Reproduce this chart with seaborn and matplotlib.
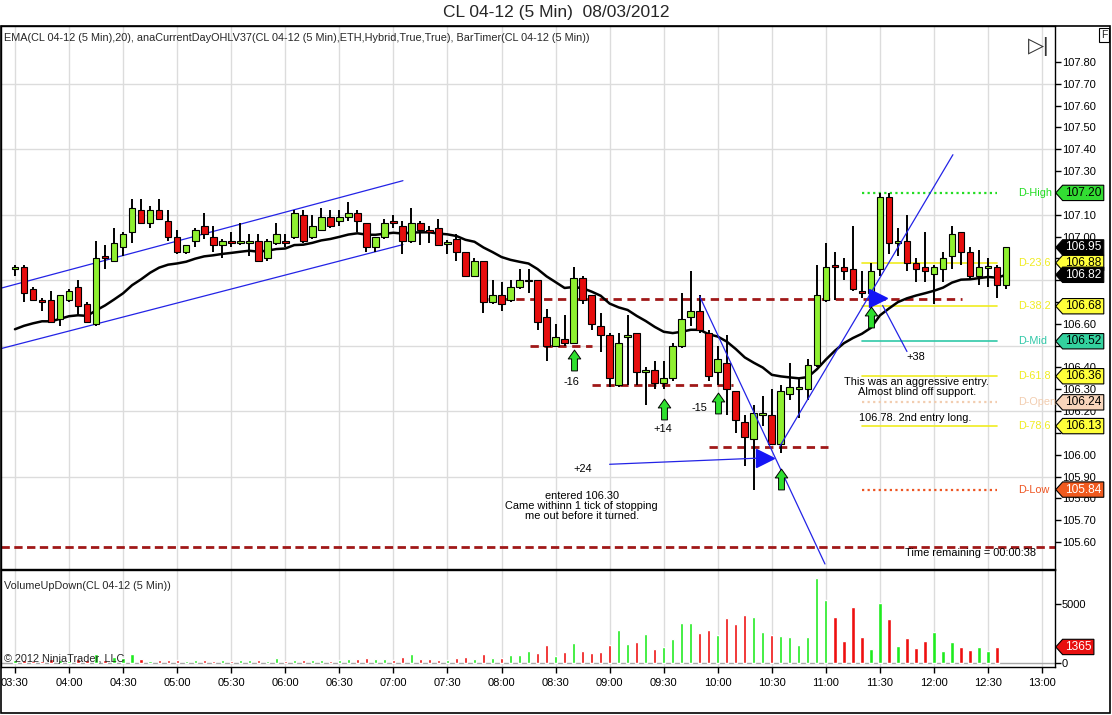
import numpy as np
import pandas as pd
import matplotlib
matplotlib.use("Agg")
import matplotlib.pyplot as plt
import seaborn as sns
from matplotlib.path import Path
from matplotlib.patches import Rectangle

# ---------------- data ----------------
time_labels = ["03:30", "04:00", "04:30", "05:00", "05:30", "06:00", "06:30", "07:00",
               "07:30", "08:00", "08:30", "09:00", "09:30", "10:00", "10:30", "11:00",
               "11:30", "12:00", "12:30", "13:00"]

opens = [106.85, 106.86, 106.76, 106.71, 106.71, 106.62, 106.71, 106.77, 106.69, 106.60,
         106.91, 106.89, 106.95, 107.02, 107.12, 107.06, 107.12, 107.07, 107.00, 106.93,
         106.98, 107.05, 107.00, 106.96, 106.98, 106.97, 106.97, 106.98, 106.90, 106.97,
         106.98, 107.00, 107.10, 107.00, 107.03, 107.09, 107.07, 107.09, 107.11, 107.06,
         106.95, 107.00, 107.07, 107.05, 106.98, 107.06, 107.03, 107.04, 106.965, 106.99,
         106.93, 106.82, 106.89, 106.70, 106.73, 106.71, 106.77, 106.795, 106.80, 106.63,
         106.50, 106.53, 106.51, 106.81, 106.73, 106.59, 106.55, 106.32, 106.54, 106.56,
         106.38, 106.39, 106.33, 106.35, 106.50, 106.63, 106.66, 106.56, 106.38, 106.42,
         106.29, 106.15, 106.07, 106.18, 106.18, 106.05, 106.28, 106.30, 106.30, 106.41,
         106.71, 106.87, 106.86, 106.85, 106.75, 106.74, 106.85, 107.18, 106.97, 106.98,
         106.88, 106.86, 106.83, 106.85, 106.91, 107.02, 106.93, 106.82, 106.855, 106.86,
         106.78]
highs = [106.87, 106.87, 106.77, 106.72, 106.75, 106.73, 106.76, 106.80, 106.70, 106.98,
         106.96, 107.04, 107.02, 107.17, 107.17, 107.14, 107.17, 107.12, 107.03, 106.96,
         107.04, 107.11, 107.05, 106.99, 107.02, 107.06, 107.01, 107.01, 106.99, 107.06,
         107.01, 107.12, 107.12, 107.10, 107.13, 107.12, 107.12, 107.16, 107.12, 107.06,
         107.00, 107.08, 107.10, 107.07, 107.13, 107.07, 107.05, 107.08, 106.985, 107.01,
         106.93, 106.90, 106.89, 106.80, 106.79, 106.80, 106.85, 106.85, 106.80, 106.67,
         106.60, 106.64, 106.86, 106.82, 106.73, 106.65, 106.56, 106.56, 106.64, 106.56,
         106.40, 106.43, 106.43, 106.51, 106.74, 106.84, 106.73, 106.57, 106.50, 106.55,
         106.29, 106.18, 106.23, 106.27, 106.30, 106.32, 106.42, 106.35, 106.44, 106.87,
         106.97, 106.93, 106.90, 107.05, 106.84, 106.88, 107.20, 107.20, 107.04, 107.10,
         106.90, 107.02, 106.87, 106.93, 107.05, 107.02, 106.95, 106.94, 106.90, 106.87,
         106.95]
lows = [106.82, 106.70, 106.71, 106.66, 106.61, 106.59, 106.70, 106.64, 106.61, 106.59,
        106.85, 106.89, 106.91, 106.97, 107.06, 107.04, 107.08, 106.98, 106.92, 106.92,
        106.95, 106.99, 106.93, 106.90, 106.95, 106.96, 106.91, 106.89, 106.89, 106.96,
        106.95, 106.99, 106.97, 106.99, 107.03, 107.04, 107.05, 107.07, 107.02, 106.93,
        106.93, 106.99, 107.04, 106.92, 106.97, 106.96, 106.97, 106.96, 106.92, 106.89,
        106.82, 106.82, 106.65, 106.69, 106.66, 106.70, 106.76, 106.74, 106.57, 106.43,
        106.50, 106.50, 106.51, 106.69, 106.57, 106.47, 106.31, 106.31, 106.32, 106.32,
        106.23, 106.30, 106.30, 106.34, 106.49, 106.59, 106.56, 106.34, 106.32, 106.18,
        106.10, 105.95, 105.84, 106.13, 106.05, 106.01, 106.25, 106.17, 106.25, 106.40,
        106.70, 106.71, 106.80, 106.75, 106.72, 106.72, 106.82, 106.92, 106.91, 106.84,
        106.79, 106.79, 106.69, 106.79, 106.85, 106.87, 106.80, 106.78, 106.77, 106.72,
        106.76]
closes = [106.86, 106.74, 106.71, 106.70, 106.61, 106.73, 106.75, 106.68, 106.61, 106.90,
          106.90, 106.97, 107.01, 107.13, 107.06, 107.12, 107.08, 107.00, 106.93, 106.96,
          107.03, 107.01, 106.96, 106.98, 106.97, 106.98, 106.98, 106.89, 106.98, 107.01,
          106.97, 107.11, 106.98, 107.05, 107.09, 107.05, 107.09, 107.11, 107.07, 106.95,
          107.00, 107.06, 107.06, 106.98, 107.06, 107.03, 107.02, 106.96, 106.975, 106.93,
          106.82, 106.89, 106.70, 106.73, 106.69, 106.77, 106.80, 106.80, 106.61, 106.50,
          106.54, 106.51, 106.81, 106.71, 106.60, 106.55, 106.35, 106.51, 106.55, 106.38,
          106.39, 106.33, 106.35, 106.50, 106.62, 106.66, 106.57, 106.36, 106.44, 106.30,
          106.16, 106.08, 106.19, 106.19, 106.05, 106.29, 106.31, 106.31, 106.41, 106.73,
          106.86, 106.86, 106.84, 106.76, 106.74, 106.84, 107.18, 106.97, 106.98, 106.88,
          106.85, 106.84, 106.86, 106.90, 107.01, 106.93, 106.82, 106.86, 106.865, 106.78,
          106.95]
volumes = [230, 260, 200, 150, 300, 260, 180, 345, 260, 725,
           290, 520, 435, 725, 350, 200, 290, 230, 290, 175,
           290, 290, 200, 230, 200, 260, 290, 260, 200, 465,
           145, 290, 230, 230, 230, 145, 230, 375, 375, 465,
           350, 375, 230, 520, 725, 350, 350, 290, 290, 465,
           520, 350, 725, 405, 405, 640, 700, 985, 870, 1543,
           571, 914, 1714, 1029, 857, 914, 1543, 2829, 1629, 1800,
           2486, 1200, 1371, 2057, 3429, 3429, 2571, 2829, 2400, 3857,
           3343, 4114, 3914, 2657, 2400, 2314, 2200, 1543, 2229, 7257,
           5371, 3943, 1886, 4800, 2229, 1200, 5143, 3771, 1457, 2143,
           1286, 1886, 2657, 1029, 1800, 1371, 1114, 1371, 1029, 1365]

ema_period = 20
ema_seed = 106.545
day_open = 106.24

# annotation drawings (bar index, price)
channel_upper = [(-1.66, 106.762), (43.06, 107.256)]
channel_lower = [(-1.66, 106.485), (43.06, 106.963)]
trend_lines = [[(66.0, 105.956), (82.4, 105.984)],
               [(76.0, 106.725), (89.9, 105.499)],
               [(84.9, 106.039), (104.1, 107.375)],
               [(96.3, 106.684), (99.0, 106.473)]]
support_prices = [106.715, 106.50, 106.318, 106.033]
support_start = [52.5, 57.2, 64.0, 77.0]
support_end = [105.1, 64.0, 79.7, 90.2]
stop_line = 105.577
signal_bars = [62, 72, 78, 85, 95]
signal_prices = [106.432, 106.208, 106.236, 105.888, 106.629]
entry_bars = [83.2, 95.8]
entry_prices = [105.984, 106.720]
notes = [(61.8, 106.332, "-16"), (71.9, 106.117, "+14"), (76.0, 106.213, "-15"),
         (63.0, 105.934, "+24"), (100.0, 106.446, "+38"),
         (62.9, 105.766, "entered 106.30\nCame withinn 1 tick of stopping\nme out before it turned."),
         (100.1, 106.31, "This was an aggressive entry.\nAlmost blind off support."),
         (99.9, 106.167, "106.78. 2nd entry long."),
         (106.0, 105.55, "Time remaining = 00:00:38")]

# ---------------- style ----------------
sns.set_style("white")
plt.rcParams['font.family'] = ['Liberation Sans', 'DejaVu Sans']

W, H = 1112, 715
fig = plt.figure(figsize=(W / 100, H / 100), dpi=100)
fig.patch.set_facecolor('white')


def fx(px):
    return px / W


def fy(py):
    return 1 - py / H


ax = fig.add_axes([fx(1), fy(569), fx(1055) - fx(1), fy(26) - fy(569)])
axv = fig.add_axes([fx(1), fy(667), fx(1055) - fx(1), fy(570) - fy(667)], sharex=ax)

n = len(closes)
x = np.arange(n)
o = np.array(opens); h = np.array(highs); l = np.array(lows); c = np.array(closes)

GREEN = "#8FF030"
RED = "#E60D0D"
DRED = "#A01818"
BLUE = "#2323E6"
GRID = "#DCDCDC"

ax.set_xlim(-1.55, 115.43)
ax.set_ylim(105.476, 107.965)
axv.set_ylim(-345, 7930)

# grid
xt = np.arange(0, 6 * len(time_labels), 6)
for xx in xt:
    ax.axvline(xx, color=GRID, lw=1, zorder=0)
    axv.axvline(xx, color=GRID, lw=1, zorder=0)
for yy in np.arange(105.9, 107.8, 0.3):
    ax.axhline(yy, color=GRID, lw=1, zorder=0)
axv.axhline(0, color="#A8A8A8", lw=1, zorder=1)

# channel lines
for seg in (channel_upper, channel_lower):
    ax.plot([seg[0][0], seg[1][0]], [seg[0][1], seg[1][1]], color=BLUE, lw=0.9, zorder=2)

# support / resistance dashed lines
for p, s, e in zip(support_prices, support_start, support_end):
    ax.plot([s, e], [p, p], color=DRED, lw=2.0, dashes=(3, 2), zorder=2)
ax.axhline(stop_line, color=DRED, lw=2.0, dashes=(3, 1.6), zorder=2)

# day levels
dhigh, dlow = max(highs), min(lows)
rng = dhigh - dlow
levels = [("D-High", dhigh, "#22DD22", (1, 1.5), "#33DD33", "black"),
          ("D-23.6", dhigh - 0.236 * rng, "#F0EC20", None, "#FFFF3A", "black"),
          ("D-38.2", dhigh - 0.382 * rng, "#F0EC20", None, "#FFFF3A", "black"),
          ("D-Mid", dhigh - 0.5 * rng, "#30C8A8", None, "#33D19E", "black"),
          ("D-61.8", dhigh - 0.618 * rng, "#F0EC20", None, "#FFFF3A", "black"),
          ("D-Open", day_open, "#F2CDB0", (1, 1.5), "#F8D5BB", "black"),
          ("D-78.6", dhigh - 0.786 * rng, "#F0EC20", None, "#FFFF3A", "black"),
          ("D-Low", dlow, "#EE5522", (1, 1.5), "#F05A1E", "white")]
lvl_start, lvl_end = 94.0, 109.0
for name, p, col, dash, tfc, ttc in levels:
    if dash is None:
        ax.plot([lvl_start, lvl_end], [p, p], color=col, lw=1.2, zorder=2)
    else:
        ax.plot([lvl_start, lvl_end], [p, p], color=col, lw=1.6, dashes=dash, zorder=2)
    ax.text(111.3, p, name, color=col, fontsize=7.8, va='center', ha='left', zorder=5)

# EMA
alpha = 2 / (ema_period + 1)
ema = []
prev = ema_seed
for cc in closes:
    prev = prev + alpha * (cc - prev)
    ema.append(prev)
sns.lineplot(x=x, y=ema, ax=ax, color="black", lw=1.8, zorder=5)

# candles
up = c >= o
bottoms = np.minimum(o, c)
heights = np.maximum(np.abs(c - o), 0.005)
ax.vlines(x, l, h, color="black", lw=1.4, zorder=6)
ax.bar(x, heights, bottom=bottoms, width=0.74,
       color=[GREEN if u else RED for u in up], edgecolor="black", linewidth=0.8, zorder=7)

# trend lines, entry triangles
for seg in trend_lines:
    ax.plot([seg[0][0], seg[1][0]], [seg[0][1], seg[1][1]], color=BLUE, lw=0.9, zorder=8)
ax.plot(entry_bars, entry_prices, linestyle='none', marker='>', ms=12.5, color="#1414F5",
        mec="#1414F5", zorder=9)

# signal arrows
arrow_path = Path([(-0.28, -1), (0.28, -1), (0.28, 0.15), (0.6, 0.15), (0, 1),
                   (-0.6, 0.15), (-0.28, 0.15), (-0.28, -1)], closed=True)
ax.plot(signal_bars, signal_prices, linestyle='none', marker=arrow_path, ms=15,
        mfc="#2EE02E", mec="black", mew=0.7, zorder=9)

for bx, py, txt in notes:
    ax.text(bx, py, txt, fontsize=7.9, ha='center', va='center', color='black',
            linespacing=1.0, zorder=10)

# volume bars
vx = np.arange(len(volumes))
vcol = ["#1EEB1E" if up[i] else "#EE1010" for i in vx]
axv.bar(vx, volumes, width=0.36, color=vcol, zorder=3)

# tag values (price tags cover the axis labels under them)
tag_vals = [p for _, p, *_ in levels] + [closes[-1], ema[-1]]

# axes styling
for a in (ax, axv):
    for s in a.spines.values():
        s.set_color("black")
        s.set_linewidth(1)
    a.set_facecolor("white")
    a.yaxis.tick_right()
    a.tick_params(axis='y', direction='out', length=4, width=1, labelsize=8, pad=1,
                  colors='black', left=False, right=True)

yt = np.round(np.arange(105.6, 107.81, 0.1), 2)
ax.set_yticks(yt)
ax.set_yticklabels(["" if min(abs(v - t) for t in tag_vals) < 0.035 else f"{v:.2f}" for v in yt])
ax.tick_params(axis='x', bottom=False, labelbottom=False)
axv.set_yticks([0, 5000])
axv.set_xticks(xt)
axv.set_xticklabels(time_labels)
axv.tick_params(axis='x', direction='out', length=4, width=1, labelsize=8, pad=4,
                colors='black', bottom=True)
ax.set_xlabel(""); ax.set_ylabel(""); axv.set_xlabel(""); axv.set_ylabel("")


# price tags
def tag_box(x0, y0, width, height, mutation_size):
    padx = mutation_size * 0.2
    pady = mutation_size * 0.14
    x0 -= padx; y0 -= pady
    width += 2 * padx; height += 2 * pady
    x1, y1 = x0 + width, y0 + height
    tip = height * 0.45
    return Path([(x0, y0), (x1, y0), (x1, y1), (x0, y1), (x0 - tip, (y0 + y1) / 2), (x0, y0)],
                closed=True)


def tag(a, val, txt, fc, tc):
    a.text(1.0095, val, txt, transform=a.get_yaxis_transform(), fontsize=8.6, color=tc,
           ha='left', va='center', zorder=20, clip_on=False,
           bbox=dict(boxstyle=tag_box, fc=fc, ec='black', lw=0.8))


for name, p, col, dash, tfc, ttc in levels:
    tag(ax, p, f"{p:.2f}", tfc, ttc)
tag(ax, closes[-1], f"{closes[-1]:.2f}", "black", "white")
tag(ax, ema[-1], f"{ema[-1]:.2f}", "black", "white")
tag(axv, volumes[-1], f"{volumes[-1]}", "#E81010", "white")

# panel texts
fig.text(fx(556), fy(13), "CL 04-12 (5 Min)  08/03/2012", ha='center', va='center', fontsize=12.5)
ax.text(0.003, 0.978, "EMA(CL 04-12 (5 Min),20), anaCurrentDayOHLV37(CL 04-12 (5 Min),ETH,Hybrid,True,True), BarTimer(CL 04-12 (5 Min))",
        transform=ax.transAxes, fontsize=7.8, ha='left', va='center', zorder=10)
axv.text(0.003, 0.83, "VolumeUpDown(CL 04-12 (5 Min))", transform=axv.transAxes,
         fontsize=7.8, ha='left', va='center', zorder=10)
axv.text(0.003, 0.03, "© 2012 NinjaTrader, LLC", transform=axv.transAxes,
         fontsize=7.8, ha='left', va='bottom', zorder=10)

# top-right controls
fig.text(fx(1039), fy(47), "▷|", fontsize=15, ha='center', va='center', color='#333333')
fig.text(fx(1104), fy(35), "F", fontsize=7.5, ha='center', va='center',
         bbox=dict(boxstyle='square,pad=0.15', fc='white', ec='black', lw=0.8))

# outer frame
fig.patches.append(Rectangle((fx(1), fy(713)), fx(1110) - fx(1), fy(26) - fy(713),
                             transform=fig.transFigure, fill=False, ec='black', lw=1.2))

fig.savefig("out.png", dpi=100, facecolor='white')
